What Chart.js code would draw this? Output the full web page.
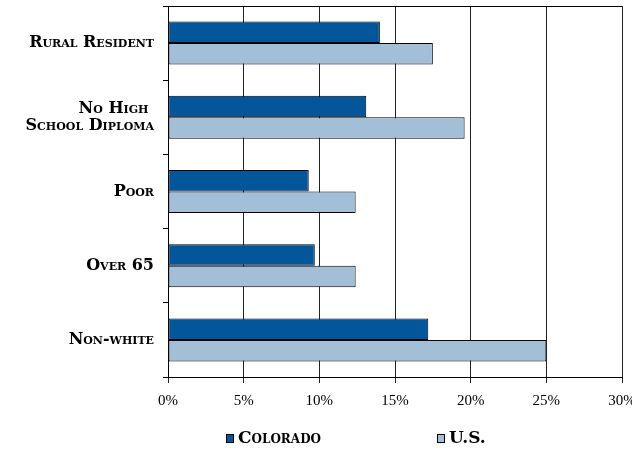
<!DOCTYPE html>
<html>
<head>
<meta charset="utf-8">
<script src="https://cdn.jsdelivr.net/npm/chart.js@4"></script>
<style>
  html, body { margin: 0; padding: 0; background: #fff; }
  #wrap { width: 632px; height: 452px; }
</style>
</head>
<body>
<div id="wrap"><canvas id="chart" width="632" height="452"></canvas></div>
<script>
// 항목 (여러 줄 라벨은 배열로)
const categories = ['Rural Resident', ['No High ', 'School Diploma'], 'Poor', 'Over 65', 'Non-white'];
// 계열 값 (%)
const coloradoValues = [14.0, 13.1, 9.3, 9.7, 17.2];
const usValues = [17.5, 19.6, 12.4, 12.4, 25.0];
const seriesNames = ['Colorado', 'U.S.'];
// 가로축 눈금
const xTicks = [0, 5, 10, 15, 20, 25, 30];

const labelFont = { family: '"DejaVu Serif", serif', size: 16, weight: 'small-caps bold', lineHeight: 1.1 };
const tickFont = { family: '"Liberation Serif", serif', size: 15, weight: 'normal' };

// 범례는 아래쪽에 직접 그림 (두 항목 간격이 넓어서)
const legendRow = {
    id: 'legendRow',
    afterDraw(chart) {
        const ctx = chart.ctx;
        const xs = [226, 437];
        const y = 439;
        ctx.save();
        ctx.font = 'small-caps bold 17px "DejaVu Serif", serif';
        ctx.textBaseline = 'middle';
        ctx.textAlign = 'left';
        chart.data.datasets.forEach((ds, i) => {
            ctx.fillStyle = ds.backgroundColor;
            ctx.fillRect(xs[i] + 0.5, y - 4.5, 7, 8);
            ctx.strokeStyle = '#000';
            ctx.lineWidth = 1;
            ctx.strokeRect(xs[i] + 0.5, y - 4.5, 7, 8);
            ctx.fillStyle = '#000';
            ctx.fillText(ds.label, xs[i] + 12, y);
        });
        ctx.restore();
    }
};

const chart = new Chart(document.getElementById('chart'), {
    type: 'bar',
    data: {
        labels: categories,
        datasets: [{
            label: seriesNames[0],
            data: coloradoValues,
            backgroundColor: '#04569a',
            borderColor: '#000',
            borderWidth: 1,
            borderSkipped: false
        }, {
            label: seriesNames[1],
            data: usValues,
            backgroundColor: '#a3bfd8',
            borderColor: '#000',
            borderWidth: 1,
            borderSkipped: false
        }]
    },
    options: {
        indexAxis: 'y',
        responsive: false,
        animation: false,
        layout: { padding: { top: 6, right: 10, left: 0, bottom: 40 } },
        datasets: {
            bar: { barPercentage: 1.0, categoryPercentage: 0.58 }
        },
        plugins: {
            legend: { display: false },
            tooltip: { enabled: false }
        },
        scales: {
            x: {
                min: 0,
                max: 30,
                afterBuildTicks(scale) {
                    scale.ticks = xTicks.map(v => ({ value: v }));
                },
                afterFit(scale) {
                    scale.height = 35;
                    scale.paddingLeft = 0;
                    scale.paddingRight = 0;
                },
                grid: { color: '#222', lineWidth: 1, tickLength: 6 },
                border: { color: '#000', width: 1 },
                ticks: {
                    color: '#000',
                    font: tickFont,
                    padding: 9,
                    maxRotation: 0,
                    callback: v => v + '%'
                }
            },
            y: {
                afterFit(scale) {
                    scale.width = 168;
                    scale.paddingTop = 0;
                    scale.paddingBottom = 0;
                },
                grid: {
                    offset: true,
                    drawOnChartArea: true,
                    // 위쪽 테두리만 그림
                    color: ctx => ctx.index === 0 ? '#000' : 'rgba(0,0,0,0)',
                    tickColor: '#000',
                    tickLength: 5
                },
                border: { color: '#000', width: 1 },
                ticks: {
                    color: '#000',
                    font: labelFont,
                    padding: 9,
                    crossAlign: 'near'
                }
            }
        }
    },
    plugins: [legendRow]
});
</script>
</body>
</html>
